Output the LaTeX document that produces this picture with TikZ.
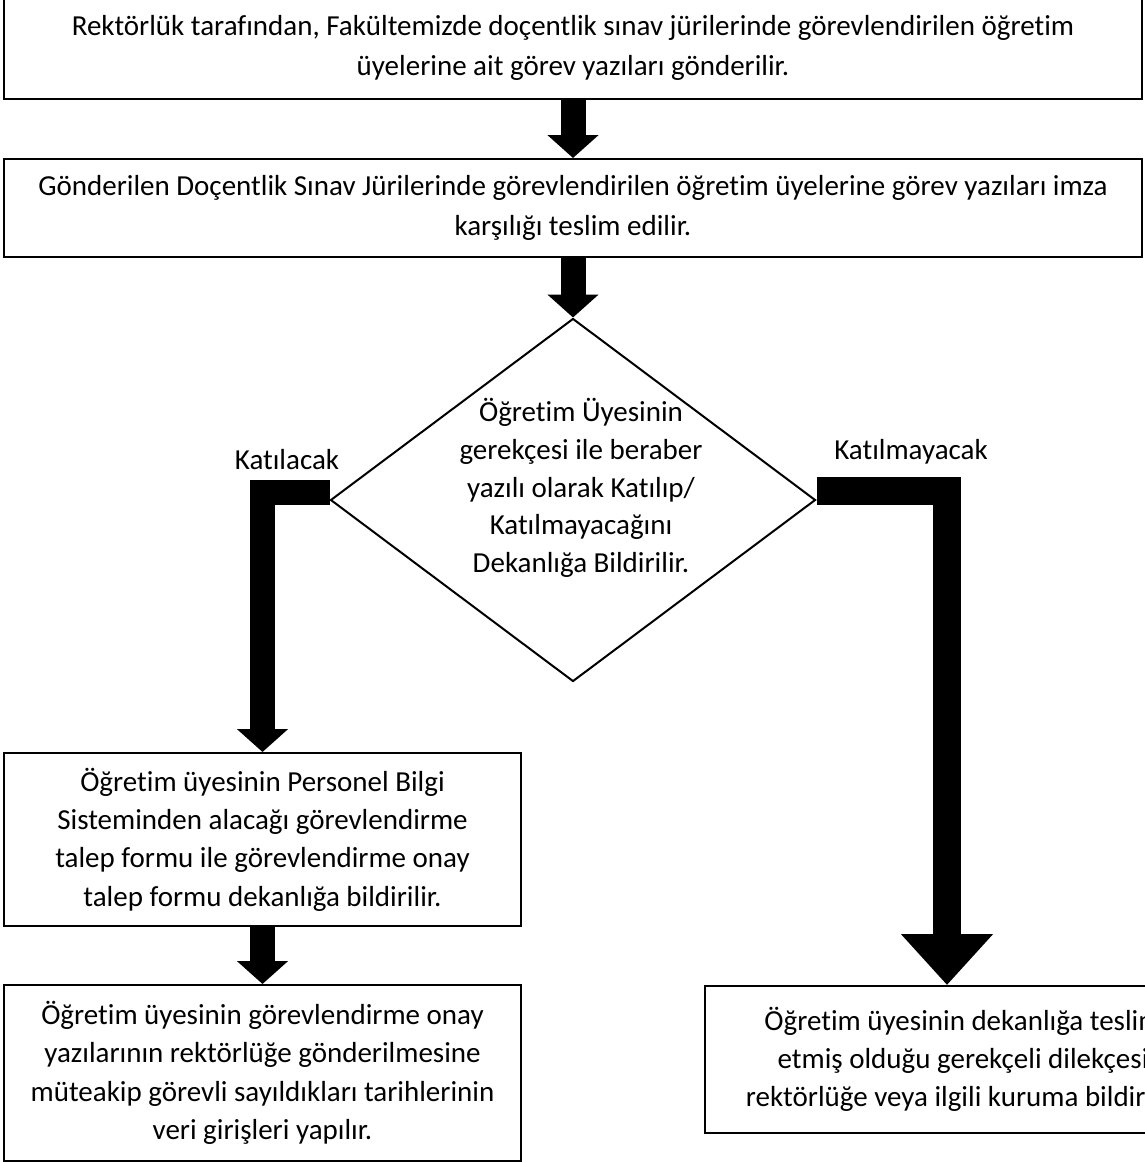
\documentclass[tikz,border=0pt]{standalone}
\usepackage{fontspec}
\setmainfont{Carlito}[Ligatures=NoCommon]
\usetikzlibrary{arrows.meta,shapes.geometric}

\begin{document}
\begin{tikzpicture}[x=1pt,y=-1pt,
	box/.style={draw,line width=2pt,align=center,inner sep=0pt},
	wide/.style={box,minimum width=1138pt,font=\fontsize{29}{40}\selectfont},
	half/.style={box,minimum width=517pt,font=\fontsize{29}{38.3}\selectfont},
	flow/.style={line width=25pt,line join=miter,-{Triangle[width=50pt,length=23pt]}},
	bigflow/.style={line width=28pt,line join=miter,-{Triangle[width=89pt,length=51pt]}},
	lbl/.style={font=\fontsize{29}{32}\selectfont}]
	\useasboundingbox (0,0) rectangle (1144,1162);
	
	\node[wide,minimum height=102pt] (rektor) at (573,48)
		{Rektörlük tarafından, Fakültemizde doçentlik sınav jürilerinde görevlendirilen öğretim\\üyelerine ait görev yazıları gönderilir.};
	\node[wide,minimum height=98pt] (teslim) at (573,208)
		{Gönderilen Doçentlik Sınav Jürilerinde görevlendirilen öğretim üyelerine görev yazıları imza\\karşılığı teslim edilir.};
	
	\node[draw,diamond,line width=2pt,inner sep=0pt,minimum width=485pt,minimum height=363pt] (karar) at (573,500) {};
	\node[align=center,font=\fontsize{29}{37.7}\selectfont] (karartext) at ([xshift=8pt,yshift=12pt]karar.center)
		{Öğretim Üyesinin\\gerekçesi ile beraber\\yazılı olarak Katılıp/\\Katılmayacağını\\Dekanlığa Bildirilir.};
	\node[lbl] (katil) at (287,460) {Katılacak};
	\node[lbl] (katilma) at (911,452) {Katılmayacak};
	
	\node[half,minimum height=173pt] (pbs) at (262.5,839.5)
		{Öğretim üyesinin Personel Bilgi\\Sisteminden alacağı görevlendirme\\talep formu ile görevlendirme onay\\talep formu dekanlığa bildirilir.};
	\node[half,minimum height=176pt] (veri) at (262.5,1073)
		{Öğretim üyesinin görevlendirme onay\\yazılarının rektörlüğe gönderilmesine\\müteakip görevli sayıldıkları tarihlerinin\\veri girişleri yapılır.};
	\node[half,minimum height=147pt] (dilekce) at (963,1059.5)
		{Öğretim üyesinin dekanlığa teslim\\etmiş olduğu gerekçeli dilekçesi\\rektörlüğe veya ilgili kuruma bildirilir.};
	
	\draw[flow] (rektor.south) -- (teslim.north);
	\draw[flow] (teslim.south) -- (karar.north);
	\draw[flow] ([yshift=8pt]karar.west) -| (pbs.north);
	\draw[bigflow] ([yshift=9pt]karar.east) -| ([xshift=-16pt]dilekce.north);
	\draw[flow] (pbs.south) -- (veri.north);
	
	%\node at (573,1150) {};
\end{tikzpicture}
\end{document}
